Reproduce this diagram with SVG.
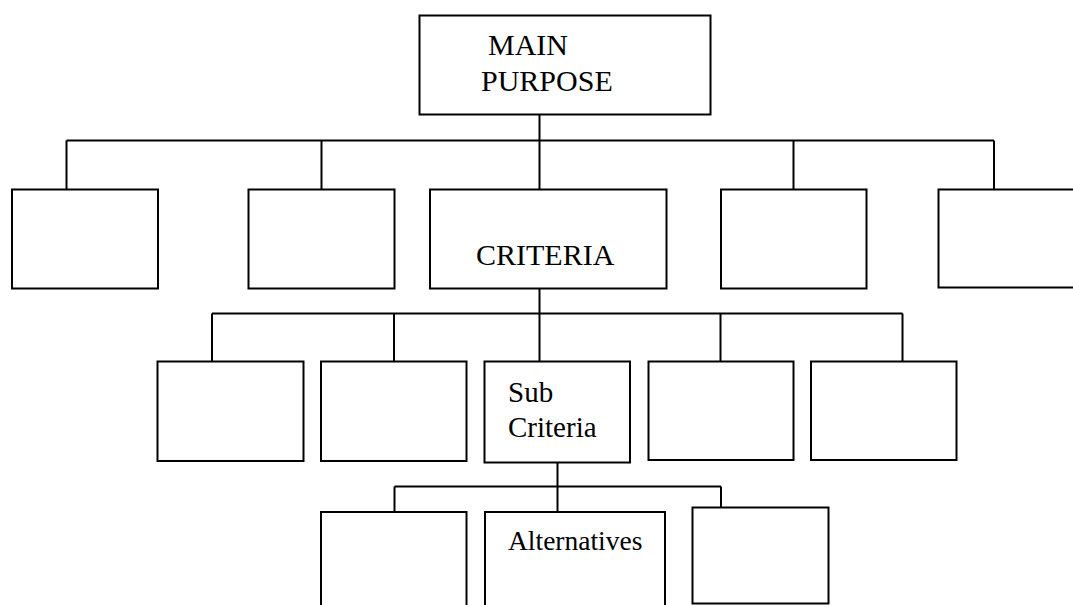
<svg xmlns="http://www.w3.org/2000/svg" width="1073" height="605" viewBox="0 0 1073 605">
<style>
.b{fill:#fff;stroke:#000;stroke-width:2}
.c{fill:none;stroke:#000;stroke-width:2}
text{font-family:'Liberation Serif','DejaVu Serif',serif;fill:#000}
</style>
<rect width="1073" height="605" fill="#fff"/>
<g id="connectors">
<path class="c" d="M539.5 114.5V189.5M66.5 140.5H994M66.5 140.5V189.5M321.5 140.5V189.5M793.5 140.5V189.5M994 140.5V189.5"/>
<path class="c" d="M539.5 288.5V361.5M212 313.5H902.5M212 313.5V361.5M394 313.5V361.5M720.5 313.5V361.5M902.5 313.5V361.5"/>
<path class="c" d="M557.5 462.5V512M394.5 486.5H721M394.5 486.5V512M721 486.5V507.5"/>
</g>
<g id="main"><rect class="b" x="419.5" y="15.5" width="291" height="99"/>
<text font-family="Liberation Serif, serif" font-size="30"><tspan x="488" y="55">MAIN</tspan><tspan x="481" y="90.5">PURPOSE</tspan></text></g>
<g id="c1"><rect class="b" x="12" y="189.5" width="146" height="99"/></g>
<g id="c2"><rect class="b" x="248.5" y="189.5" width="146" height="99"/></g>
<g id="criteria"><rect class="b" x="430" y="189.5" width="236.5" height="99"/>
<text font-family="Liberation Serif, serif" font-size="30" x="476" y="265">CRITERIA</text></g>
<g id="c4"><rect class="b" x="721" y="189.5" width="145.5" height="99"/></g>
<g id="c5"><rect class="b" x="938.5" y="189.5" width="140" height="98"/></g>
<g id="s1"><rect class="b" x="157.5" y="361.5" width="146" height="99.5"/></g>
<g id="s2"><rect class="b" x="321" y="361.5" width="145.5" height="99.5"/></g>
<g id="sub"><rect class="b" x="484.5" y="361.5" width="145.5" height="101"/>
<text font-family="Liberation Serif, serif" font-size="29"><tspan x="508" y="401.5">Sub</tspan><tspan x="508" y="436.5">Criteria</tspan></text></g>
<g id="s4"><rect class="b" x="648.5" y="361.5" width="145" height="98.5"/></g>
<g id="s5"><rect class="b" x="811" y="361.5" width="145.5" height="98.5"/></g>
<g id="a1"><rect class="b" x="321" y="512" width="145.5" height="110"/></g>
<g id="alt"><rect class="b" x="485" y="512" width="180" height="110"/>
<text font-family="Liberation Serif, serif" font-size="27.5" x="508" y="549.5">Alternatives</text></g>
<g id="a3"><rect class="b" x="692.5" y="507.5" width="136" height="96"/></g>
</svg>
